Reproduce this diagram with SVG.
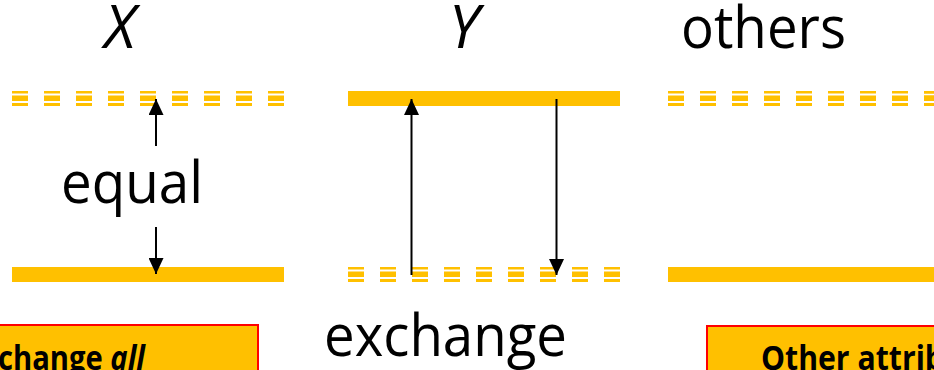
<svg xmlns="http://www.w3.org/2000/svg" width="934" height="370" viewBox="0 0 934 370">
  <style>
    .lbl { font-family: "Open Sans", "Noto Sans", sans-serif; font-size: 58px; fill: #000; }
    .it { font-style: italic; font-size: 60px; }
    .bar { fill: #FFC000; }
    .dash { stroke: #FFC000; stroke-dasharray: 16 16; fill: none; }
    .box { fill: #FFC000; stroke: #FF0000; stroke-width: 2; }
    .boxtxt { font-family: "Open Sans", "Noto Sans", sans-serif; font-weight: bold; font-size: 34px; fill: #000; }
    .arrow { stroke: #000; stroke-width: 2; fill: none; marker-end: url(#head); }
  </style>
  <defs>
    <marker id="head" viewBox="0 0 16 15" refX="16" refY="7.5" markerWidth="16" markerHeight="15" markerUnits="userSpaceOnUse" orient="auto">
      <path d="M0,0 L16,7.5 L0,15 Z" fill="#000"/>
    </marker>
    <!-- triple-stripe dashed level, drawn from y=0 to y=15 -->
    <g id="dashedLevel">
      <line class="dash" x1="0" y1="1.25" x2="272" y2="1.25" stroke-width="2.5"/>
      <line class="dash" x1="0" y1="7.25" x2="272" y2="7.25" stroke-width="5.5"/>
      <line class="dash" x1="0" y1="13.5" x2="272" y2="13.5" stroke-width="3"/>
    </g>
  </defs>

  <rect width="934" height="370" fill="#fff"/>

  <g id="colX">
    <text class="lbl it" x="120" y="48" text-anchor="middle">X</text>
    <use href="#dashedLevel" x="12" y="91"/>
    <rect class="bar" x="12" y="267" width="272" height="15"/>
    <text class="lbl" x="61" y="203" textLength="142" lengthAdjust="spacingAndGlyphs">equal</text>
  </g>

  <g id="colY">
    <text class="lbl it" x="464" y="48" text-anchor="middle">Y</text>
    <rect class="bar" x="348" y="91" width="272" height="15"/>
    <use href="#dashedLevel" x="348" y="267"/>
    <text class="lbl" x="324" y="356" textLength="243" lengthAdjust="spacingAndGlyphs">exchange</text>
  </g>

  <g id="colOthers">
    <text class="lbl" x="681" y="48" textLength="165" lengthAdjust="spacingAndGlyphs">others</text>
    <use href="#dashedLevel" x="668" y="91"/>
    <use href="#dashedLevel" x="924" y="91"/>
    <rect class="bar" x="668" y="267" width="280" height="15"/>
  </g>

  <g id="boxLeft">
    <rect class="box" x="-10" y="325" width="268" height="60"/>
    <text class="boxtxt" x="-2" y="370" textLength="147" lengthAdjust="spacingAndGlyphs">change <tspan font-style="italic">all</tspan></text>
  </g>

  <g id="boxRight">
    <rect class="box" x="707" y="326" width="240" height="60"/>
    <text class="boxtxt" x="761" y="370" textLength="183" lengthAdjust="spacingAndGlyphs">Other attrib</text>
  </g>

  <g id="connectors">
    <line class="arrow" x1="156" y1="146" x2="156" y2="99"/>
    <line class="arrow" x1="156" y1="227" x2="156" y2="274"/>
    <line class="arrow" x1="411.5" y1="275" x2="411.5" y2="99"/>
    <line class="arrow" x1="556.5" y1="99" x2="556.5" y2="275"/>
  </g>
</svg>
